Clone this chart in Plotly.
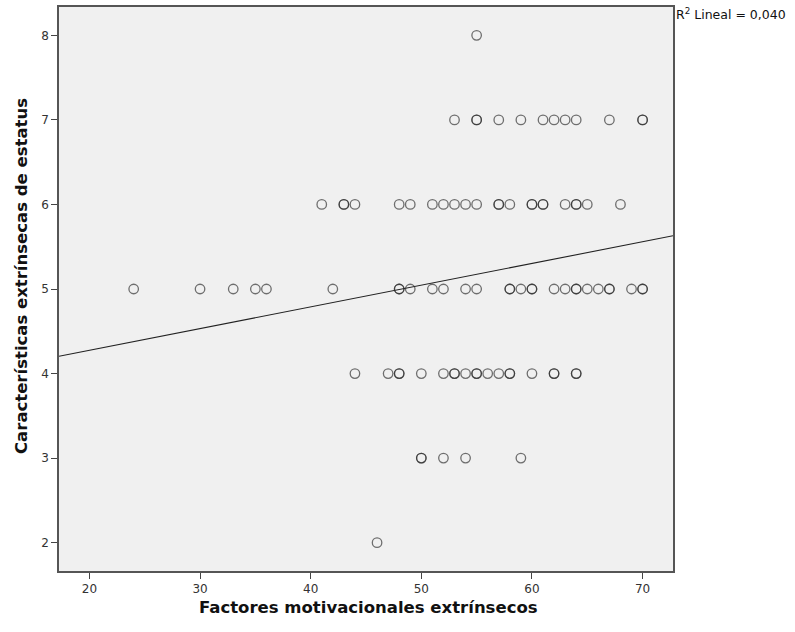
import numpy as np
import plotly.graph_objects as go

# Factores motivacionales extrínsecos (x) for each level of Características extrínsecas de estatus (y)
x_y8 = [55]
x_y7 = [53, 55, 55, 57, 59, 61, 62, 63, 64, 67, 70, 70]
x_y6 = [41, 43, 43, 44, 48, 49, 51, 52, 53, 54, 55, 57, 57, 58, 60, 60, 61, 61, 63, 64, 64, 65, 68]
x_y5 = [24, 30, 33, 35, 36, 42, 48, 48, 49, 51, 52, 54, 55, 58, 58, 59, 60, 60, 62, 63, 64, 64,
        65, 66, 67, 67, 69, 70, 70]
x_y4 = [44, 47, 48, 48, 50, 52, 53, 53, 54, 55, 55, 56, 57, 58, 58, 60, 62, 62, 64, 64]
x_y3 = [50, 50, 52, 54, 59]
x_y2 = [46]

x_ticks = [20, 30, 40, 50, 60, 70]
y_ticks = [2, 3, 4, 5, 6, 7, 8]
r2_label = "R<sup>2</sup> Lineal = 0,040"
x_title = "<b>Factores motivacionales extrínsecos</b>"
y_title = "<b>Características extrínsecas de estatus</b>"

xs, ys = [], []
for yv, arr in [(8, x_y8), (7, x_y7), (6, x_y6), (5, x_y5), (4, x_y4), (3, x_y3), (2, x_y2)]:
    xs += arr
    ys += [yv] * len(arr)
xs = np.array(xs, float)
ys = np.array(ys, float)

xmin, xmax = 17.25, 72.75
slope, intercept = np.polyfit(xs, ys, 1)
lx = np.array([xmin, xmax])
ly = intercept + slope * lx

fig = go.Figure()
fig.add_trace(go.Scatter(
    x=lx, y=ly, mode="lines",
    line=dict(color="#222222", width=1.1),
    hoverinfo="skip", showlegend=False))
fig.add_trace(go.Scatter(
    x=xs, y=ys, mode="markers",
    marker=dict(symbol="circle-open", size=9.5,
                color="rgba(40,40,40,0.65)", line=dict(width=1.3)),
    showlegend=False))

fig.update_layout(
    width=795, height=632,
    margin=dict(l=59, r=122, t=7, b=61, autoexpand=False),
    paper_bgcolor="white", plot_bgcolor="#f0f0f0",
    font=dict(family="DejaVu Sans", color="#222222"),
    annotations=[
        dict(text=r2_label, xref="paper", yref="paper", x=1.002, y=1.006,
             xanchor="left", yanchor="top", showarrow=False,
             font=dict(size=12.5, color="#111111", family="DejaVu Sans")),
        dict(text=x_title, xref="paper", yref="paper", x=(368 - 59) / 614, y=0,
             xanchor="center", yanchor="middle", yshift=-(607 - 571), showarrow=False,
             font=dict(size=16.5, color="#111111", family="DejaVu Sans")),
        dict(text=y_title, xref="paper", yref="paper", x=0, y=(571 - 276) / 564,
             xanchor="center", yanchor="middle", xshift=-(59 - 21), textangle=-90,
             showarrow=False,
             font=dict(size=16.5, color="#111111", family="DejaVu Sans")),
    ],
)
fig.update_xaxes(
    range=[xmin, xmax], tickvals=x_ticks, ticks="outside", ticklen=6,
    tickcolor="#444444", tickwidth=1.2, automargin=False,
    showgrid=False, zeroline=False,
    showline=True, linecolor="#555555", linewidth=1.5, mirror=True,
    tickfont=dict(size=12, color="#333333"))
fig.update_yaxes(
    range=[1.665, 8.335], tickvals=y_ticks, ticks="outside", ticklen=6,
    tickcolor="#444444", tickwidth=1.2, automargin=False,
    showgrid=False, zeroline=False,
    showline=True, linecolor="#555555", linewidth=1.5, mirror=True,
    tickfont=dict(size=12, color="#333333"))

fig.write_html("out.html", config={"displayModeBar": False},
               post_script="document.body.style.margin='0';")
